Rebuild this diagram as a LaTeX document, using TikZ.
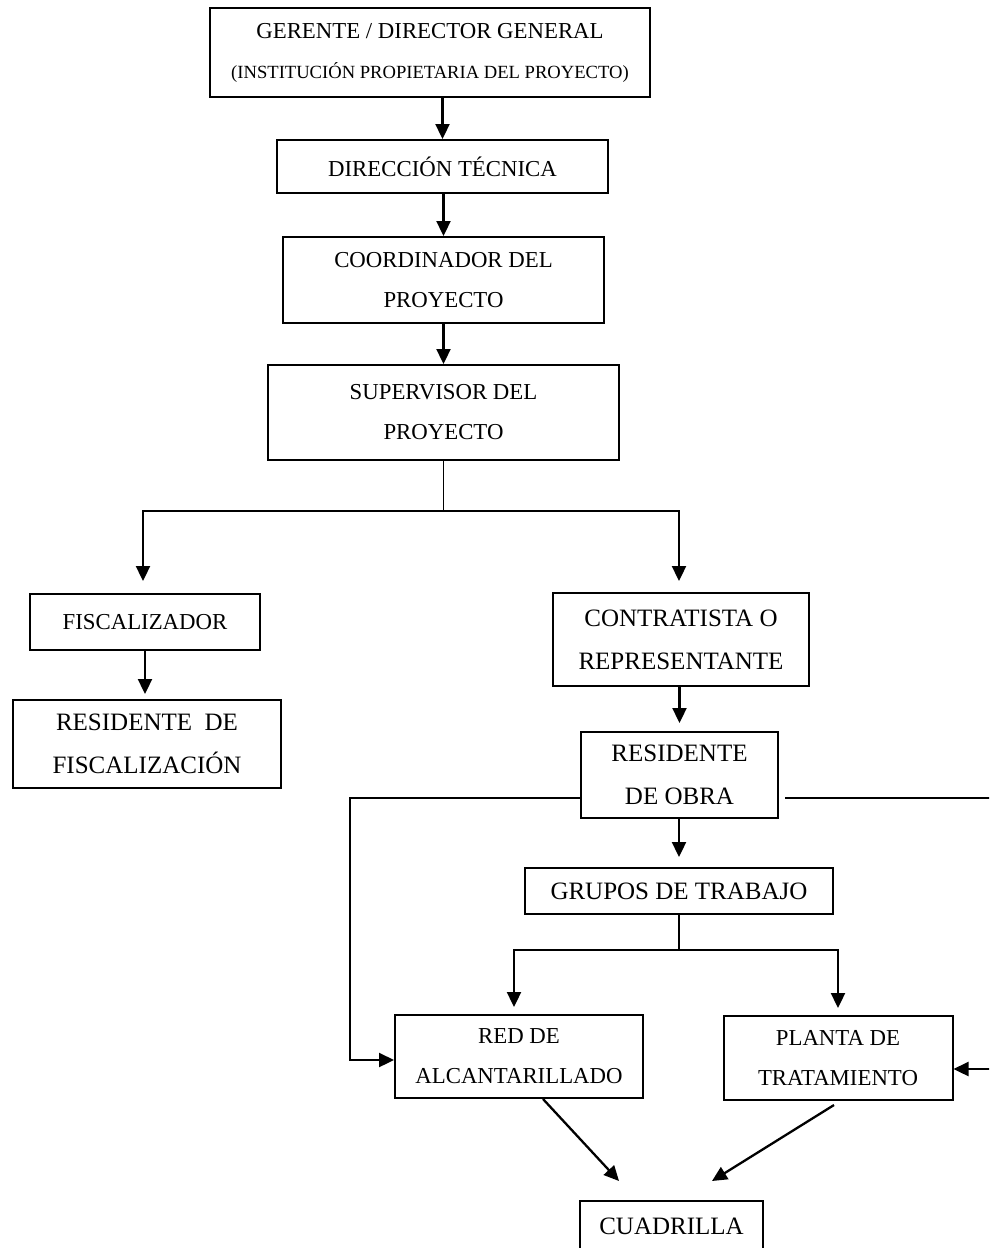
\documentclass[tikz,border=0pt]{standalone}
\usepackage{fontspec}
\setmainfont{Liberation Serif}
\usetikzlibrary{arrows.meta, positioning, calc}
\newcommand{\orgfont}{\fontsize{22.8}{40}\selectfont}
\newcommand{\orgbigfont}{\fontsize{25}{43}\selectfont}
\newcommand{\orgsmallfont}{\fontsize{18.6}{37}\selectfont}

\begin{document}
\begin{tikzpicture}[
    x=1pt, y=-1pt,
    >={Triangle[length=15pt, width=14pt]},
    box/.style={rectangle, draw=black, line width=2pt, inner sep=0pt, align=center, font=\orgfont},
    bigbox/.style={box, font=\orgbigfont},
    link/.style={->, line width=2.3pt},
    stem/.style={line width=1.4pt},
  ]
  \clip (0,0) rectangle (989,1248);
  % ------------------------------------------------------------------ owner chain
  \node[box, minimum width=440pt, minimum height=89pt] (ger) at (430,52.5)
    {GERENTE / DIRECTOR GENERAL\\{\orgsmallfont (INSTITUCIÓN PROPIETARIA DEL PROYECTO)}};
  \node[box, minimum width=331pt, minimum height=53pt] (dir) at (442.5,166.5) {DIRECCIÓN TÉCNICA};
  \node[box, minimum width=321pt, minimum height=86pt] (coo) at (443.5,280) {COORDINADOR DEL\\PROYECTO};
  \node[box, minimum width=351pt, minimum height=95pt] (sup) at (443.5,412.5) {SUPERVISOR DEL\\PROYECTO};
  \draw[link] (dir.north |- ger.south) -- (dir.north);
  \draw[link] (coo.north |- dir.south) -- (coo.north);
  \draw[link] (sup.north |- coo.south) -- (sup.north);
  % ------------------------------------------------------------------ two branches
  \node[box, minimum width=230pt, minimum height=56pt] (fis) at (145,622) {FISCALIZADOR};
  \node[bigbox, minimum width=268pt, minimum height=88pt] (rfis) at (147,744) {RESIDENTE\ \ DE\\FISCALIZACIÓN};
  \node[bigbox, minimum width=256pt, minimum height=93pt] (con) at (681,639.5) {CONTRATISTA O\\REPRESENTANTE};
  \node[bigbox, minimum width=197pt, minimum height=86pt] (rob) at (679.5,775) {RESIDENTE\\DE OBRA};
  \coordinate (fk1) at (443,511);
  \draw[stem] (sup.south) -- (sup.south |- fk1);
  \draw[link, shorten >=12pt] (sup.south |- fk1) -| ($(fis.north)+(-2,0)$);
  \draw[link, shorten >=11pt] (sup.south |- fk1) -| ($(con.north)+(-2,0)$);
  \draw[link, shorten >=5pt] (fis.south) -- (fis.south |- rfis.north);
  \draw[link, shorten >=8pt] (rob.north |- con.south) -- (rob.north);
  % ------------------------------------------------------------------ works
  \node[bigbox, minimum width=308pt, minimum height=46pt] (gru) at (679,891) {GRUPOS DE TRABAJO};
  \node[box, minimum width=248pt, minimum height=83pt] (red) at (519,1056.5) {RED DE\\ALCANTARILLADO};
  \node[box, minimum width=229pt, minimum height=84pt] (pla) at (838,1058) {PLANTA DE\\TRATAMIENTO};
  \node[bigbox, minimum width=183pt, minimum height=51pt] (cua) at (671.5,1226.5) {CUADRILLA};
  \draw[link, shorten >=10pt] (gru.north |- rob.south) -- (gru.north);
  \coordinate (fk2) at (677,950);
  \draw[stem] (gru.south) -- (gru.south |- fk2);
  \draw[link, shorten >=7pt] (gru.south |- fk2) -| ($(red.north)+(-5,0)$);
  \draw[link, shorten >=7pt] (gru.south |- fk2) -| (pla.north);
  \coordinate (lk) at (350,798);
  \coordinate (rk) at (996,798);
  \draw[link] (rob.west |- lk) -- (lk) |- ($(red.west)+(0,3.5)$);
  \draw[link] ($(rob.east |- rk)+(6,0)$) -- (rk) |- ($(pla.east)+(0,11)$);
  \coordinate (cuaL) at (619,1181);
  \coordinate (cuaR) at (712,1181);
  \draw[link] ($(red.south)+(24,0)$) -- (cuaL);
  \draw[link] ($(pla.south)+(-4,4)$) -- (cuaR);
\end{tikzpicture}
\end{document}
